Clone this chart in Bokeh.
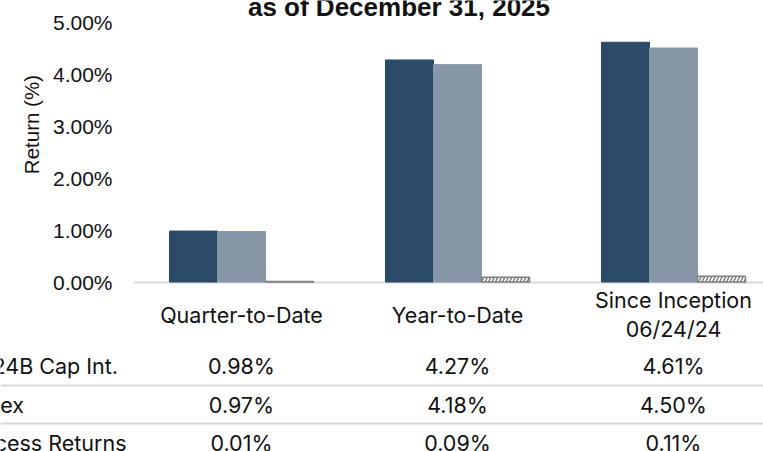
from bokeh.plotting import figure
from bokeh.models import (Range1d, FixedTicker, Span, CustomJSTickFormatter,
                          GlobalInlineStyleSheet)
from bokeh.embed import file_html
from bokeh.resources import INLINE
from bokeh.core.properties import value

# ---------------- data ----------------
title_text = "as of December 31, 2025"
y_label = "Return (%)"
categories = ["Quarter-to-Date", "Year-to-Date", "Since Inception\n06/24/24"]
series_names = ["24B Cap Int.", "Index", "Excess Returns"]
fund_returns = [0.98, 4.27, 4.61]
index_returns = [0.97, 4.18, 4.50]
excess_returns = [0.01, 0.09, 0.11]
y_ticks = [0, 1, 2, 3, 4, 5]

# ---------------- layout constants (pixels) ----------------
W, H = 763, 451
CHART_H = 345
LEFT = 133            # frame left edge
CAT_PX = 216          # pixels per category
ZERO_PX = 281.5       # y pixel of 0%
PX_PER_PCT = 52.0
BAR_W = 48 / CAT_PX

DARK = "#2B4B68"
LIGHT = "#8897A8"
GRID = "#d9d9d9"
TXT = "#111111"
AX_FONT = "Liberation Sans"
TB_FONT = value("Inter")
TB_SIZE = "21.5px"


def ypct(px):
    """canvas pixel row -> chart y value (for placing texts)"""
    return (ZERO_PX - px) / PX_PER_PCT


x_end = (W - LEFT) / CAT_PX
centers = [i + 0.5 for i in range(len(categories))]

# ---------------- chart ----------------
p = figure(width=W, height=CHART_H,
           x_range=Range1d(0, x_end),
           y_range=Range1d(ypct(CHART_H), ypct(0)),
           x_axis_location=None, y_axis_location="left",
           output_backend="svg", toolbar_location=None,
           min_border_left=LEFT, min_border_right=0, min_border_top=0, min_border_bottom=0)
p.outline_line_color = None
p.background_fill_color = "white"
p.border_fill_color = "white"
p.xgrid.visible = False
p.ygrid.ticker = FixedTicker(ticks=[0])
p.ygrid.grid_line_color = GRID
p.ygrid.grid_line_width = 2

ax = p.yaxis[0]
ax.ticker = FixedTicker(ticks=y_ticks)
ax.formatter = CustomJSTickFormatter(code="return tick.toFixed(2) + '%';")
ax.axis_line_color = None
ax.major_tick_line_color = None
ax.minor_tick_line_color = None
ax.major_tick_out = 0
ax.major_tick_in = 0
ax.minor_tick_out = 0
ax.minor_tick_in = 0
ax.major_label_standoff = 21
ax.major_label_text_font = AX_FONT
ax.major_label_text_font_size = "21px"
ax.major_label_text_color = TXT
# leading no-break spaces lift the centred label to where the reference shows it
ax.axis_label = "\u00a0" * 17 + y_label
ax.axis_label_text_font = AX_FONT
ax.axis_label_text_font_size = "20.5px"
ax.axis_label_text_font_style = "normal"
ax.axis_label_text_color = TXT
ax.axis_label_standoff = 7

off = 48 / CAT_PX
p.vbar(x=[c - off for c in centers], top=fund_returns, bottom=0, width=BAR_W,
       fill_color=DARK, line_color=DARK)
p.vbar(x=centers, top=index_returns, bottom=0, width=BAR_W,
       fill_color=LIGHT, line_color=LIGHT)
p.vbar(x=[c + off for c in centers], top=excess_returns, bottom=0, width=BAR_W,
       fill_color="white", line_color="#7f7f7f", line_width=1.5,
       hatch_pattern="/", hatch_color="#7f7f7f", hatch_scale=7, hatch_weight=1.5)

# title (partially cut at the top edge, as in the reference)
p.text(x=[(398.5 - LEFT) / CAT_PX], y=[ypct(6)], text=[title_text],
       text_font=value(AX_FONT), text_font_style="bold", text_font_size="26px",
       text_align="center", text_baseline="alphabetic", text_color=TXT)

# category labels under the groups
p.text(x=centers, y=[ypct(314)] * len(categories), text=categories,
       text_font=TB_FONT, text_font_size=TB_SIZE, text_align="center",
       text_baseline="middle", text_line_height=1.15, text_color=TXT)

# ---------------- table ----------------
TH = H - CHART_H
T0 = CHART_H   # canvas y of the table top
t = figure(width=W, height=TH,
           x_range=Range1d(-LEFT / CAT_PX, x_end), y_range=Range1d(TH, 0),
           x_axis_location=None, y_axis_location=None,
           output_backend="svg", toolbar_location=None,
           min_border_left=0, min_border_right=0, min_border_top=0, min_border_bottom=0)
t.outline_line_color = None
t.xgrid.visible = False
t.ygrid.visible = False
t.background_fill_color = "white"
t.border_fill_color = "white"

row_y = [365 - T0, 404 - T0, 442 - T0]
rows = [fund_returns, index_returns, excess_returns]
for ry, vals in zip(row_y, rows):
    t.text(x=centers, y=[ry] * len(vals), text=[f"{v:.2f}%" for v in vals],
           text_font=TB_FONT, text_font_size=TB_SIZE, text_align="center",
           text_baseline="middle", text_color=TXT)

label_x = [(-8 - LEFT) / CAT_PX, (-32 - LEFT) / CAT_PX, (-30 - LEFT) / CAT_PX]
t.text(x=label_x, y=row_y, text=series_names,
       text_font=TB_FONT, text_font_size=TB_SIZE, text_align="left",
       text_baseline="middle", text_color=TXT)

for sy in [385 - T0, 423 - T0]:
    t.add_layout(Span(location=sy, dimension="width", line_color=GRID, line_width=2))

p.stylesheets = [GlobalInlineStyleSheet(css=(
    "html, body {margin:0 !important; padding:0 !important; overflow:hidden;}"
    "body {display:flex; flex-direction:column; align-items:flex-start;}"))]

open("out.html", "w").write(file_html([p, t], INLINE))
